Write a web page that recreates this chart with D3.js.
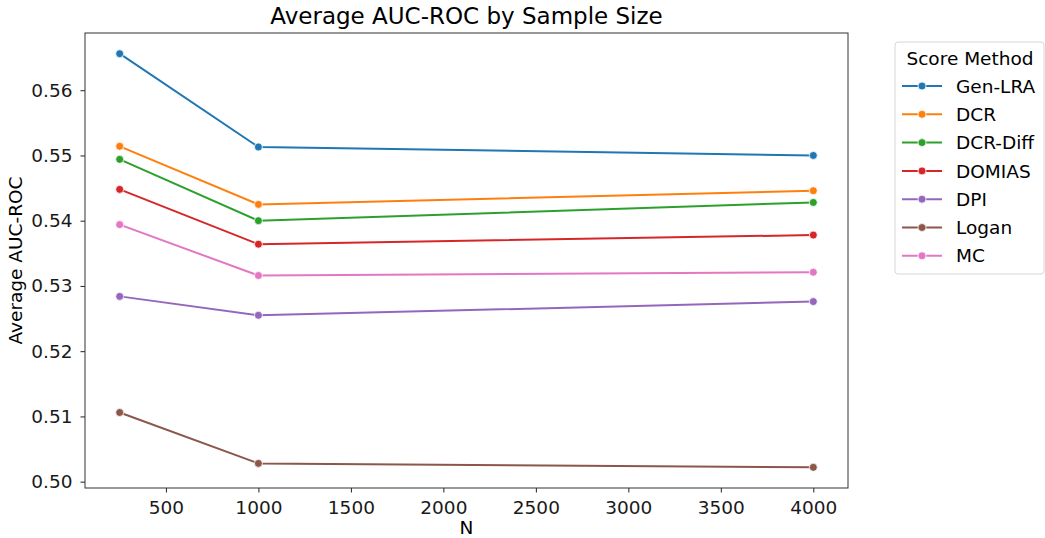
<!DOCTYPE html>
<html>
<head>
<meta charset="utf-8">
<script src="https://cdn.jsdelivr.net/npm/d3@7"></script>
<style>
  body { margin: 0; background: #fff; }
  svg { font-family: "DejaVu Sans", sans-serif; }
</style>
</head>
<body>
<svg id="chart" width="1045" height="538"></svg>
<script>
const sampleSizes = [250, 1000, 4000]
const methods = ["Gen-LRA", "DCR", "DCR-Diff", "DOMIAS", "DPI", "Logan", "MC"]
const genLra = [0.5656, 0.5513, 0.5500]
const dcr = [0.5514, 0.5425, 0.5446]
const dcrDiff = [0.5494, 0.5400, 0.5428]
const domias = [0.5448, 0.5364, 0.5378]
const dpi = [0.5284, 0.5255, 0.5276]
const logan = [0.5106, 0.5028, 0.5022]
const mc = [0.5394, 0.5316, 0.5321]
const xTicks = [500, 1000, 1500, 2000, 2500, 3000, 3500, 4000]
const yTicks = [0.50, 0.51, 0.52, 0.53, 0.54, 0.55, 0.56]

const seriesValues = [genLra, dcr, dcrDiff, domias, dpi, logan, mc]
const colors = d3.scaleOrdinal(methods, d3.schemeCategory10)

const svg = d3.select("#chart")
const margin = { left: 85, right: 197, top: 33, bottom: 50 }
const width = 1045, height = 538
const plotW = width - margin.left - margin.right
const plotH = height - margin.top - margin.bottom
const fontSize = "18.5px"

// matplotlib-style 5% padding on both axes
const pad = (lo, hi) => { const d = (hi - lo) * 0.05; return [lo - d, hi + d] }
const allY = seriesValues.flat()
const x = d3.scaleLinear()
  .domain(pad(d3.min(sampleSizes), d3.max(sampleSizes)))
  .range([0, plotW])
const y = d3.scaleLinear()
  .domain(pad(d3.min(allY), d3.max(allY)))
  .range([plotH, 0])

const g = svg.append("g").attr("transform", `translate(${margin.left},${margin.top})`)

const xAxis = g.append("g")
  .attr("transform", `translate(0,${plotH})`)
  .call(d3.axisBottom(x).tickValues(xTicks).tickSize(4.5).tickPadding(3.5).tickFormat(d3.format("d")))
const yAxis = g.append("g")
  .call(d3.axisLeft(y).tickValues(yTicks).tickSize(4.5).tickPadding(8).tickFormat(d3.format(".2f")))
;[xAxis, yAxis].forEach(a => {
  a.select(".domain").remove()
  a.selectAll(".tick line").attr("stroke", "#222").attr("stroke-width", 1)
  a.selectAll(".tick text").attr("fill", "#1a1a1a").style("font-size", fontSize).style("font-family", "DejaVu Sans")
})
xAxis.selectAll(".tick text").attr("dy", "0.95em")

g.append("rect")
  .attr("x", 0).attr("y", 0).attr("width", plotW).attr("height", plotH)
  .attr("fill", "none").attr("stroke", "#333").attr("stroke-width", 1)

const line = d3.line().x((d, i) => x(sampleSizes[i])).y(d => y(d))

methods.forEach((m, k) => {
  const vals = seriesValues[k]
  g.append("path")
    .datum(vals)
    .attr("d", line)
    .attr("fill", "none")
    .attr("stroke", colors(m))
    .attr("stroke-width", 2)
  g.selectAll(null)
    .data(vals)
    .enter()
    .append("circle")
    .attr("cx", (d, i) => x(sampleSizes[i]))
    .attr("cy", d => y(d))
    .attr("r", 4)
    .attr("fill", colors(m))
    .attr("stroke", "#fff")
    .attr("stroke-width", 0.8)
})

svg.append("text")
  .attr("x", margin.left + plotW / 2).attr("y", 24)
  .attr("text-anchor", "middle")
  .style("font-size", "23px")
  .text("Average AUC-ROC by Sample Size")

svg.append("text")
  .attr("x", margin.left + plotW / 2).attr("y", 534)
  .attr("text-anchor", "middle")
  .style("font-size", fontSize)
  .text("N")

svg.append("text")
  .attr("transform", `translate(22,${margin.top + plotH / 2}) rotate(-90)`)
  .attr("text-anchor", "middle")
  .style("font-size", fontSize)
  .text("Average AUC-ROC")

// legend
const legend = svg.append("g").attr("transform", "translate(895,42)")
legend.append("rect")
  .attr("width", 149).attr("height", 232)
  .attr("rx", 3)
  .attr("fill", "#fff").attr("stroke", "#d6d6d6").attr("stroke-width", 1)
legend.append("text")
  .attr("x", 75).attr("y", 23)
  .attr("text-anchor", "middle")
  .style("font-size", fontSize)
  .text("Score Method")
const item = legend.selectAll("g.item")
  .data(methods)
  .enter()
  .append("g")
  .attr("class", "item")
  .attr("transform", (d, i) => `translate(0,${44 + i * 28.3})`)
item.append("line")
  .attr("x1", 7).attr("x2", 47)
  .attr("stroke", d => colors(d)).attr("stroke-width", 2)
item.append("circle")
  .attr("cx", 27).attr("r", 4)
  .attr("fill", d => colors(d)).attr("stroke", "#fff").attr("stroke-width", 0.8)
item.append("text")
  .attr("x", 61).attr("dy", "0.36em")
  .style("font-size", fontSize)
  .text(d => d)
</script>
</body>
</html>
